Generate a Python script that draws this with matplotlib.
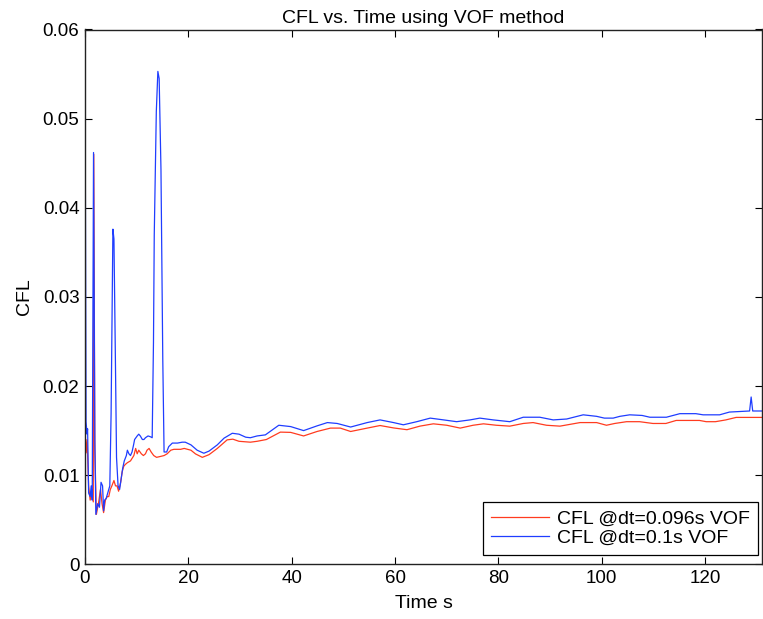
import matplotlib
matplotlib.use("Agg")
import matplotlib.pyplot as plt

# ---- data ----
t_red = [0, 0.2, 0.4, 0.7, 1.0, 1.35, 1.6, 1.7, 1.9, 2.2, 2.65, 3.0, 3.3, 3.6, 3.95, 4.3, 4.6,
         4.9, 5.2, 5.6, 5.9, 6.2, 6.5, 6.9, 7.2, 7.5, 7.8, 8.2, 8.8, 9.45, 9.8, 10.1, 10.4,
         10.9, 11.3, 11.7, 12.0, 12.4, 12.8, 13.3, 13.85, 14.6, 15.3, 15.9, 16.6, 17.2, 18.5,
         19.2, 20.5, 21.4, 22.7, 24.0, 25.6, 27.5, 28.6, 29.8, 32.0, 33.3, 35.1, 37.8, 39.8,
         42.3, 44.9, 47.5, 49.4, 51.4, 54.6, 57.1, 59.7, 62.3, 64.8, 67.4, 70.0, 72.6, 75.1,
         77.1, 79.6, 82.2, 84.8, 86.7, 89.3, 91.9, 95.8, 99.0, 100.9, 102.5, 104.8, 107.3,
         109.9, 112.4, 114.4, 118.9, 120.2, 122.0, 124.0, 126.0, 130.9]
cfl_red = [0.0150, 0.0125, 0.0140, 0.0088, 0.0072, 0.0084, 0.0070, 0.0460, 0.0130, 0.0056,
           0.0070, 0.0084, 0.0068, 0.0058, 0.0072, 0.0076, 0.0076, 0.0084, 0.0088, 0.0094,
           0.0088, 0.0088, 0.0082, 0.0092, 0.0104, 0.0110, 0.0112, 0.0114, 0.0116, 0.0122,
           0.0130, 0.0124, 0.0128, 0.0124, 0.0122, 0.0124, 0.0128, 0.0130, 0.0126, 0.0122,
           0.0120, 0.0121, 0.0122, 0.0124, 0.0128, 0.0129, 0.0129, 0.0130, 0.0128, 0.01238,
           0.0120, 0.0123, 0.0130, 0.01396, 0.01404, 0.0138, 0.0137, 0.0138, 0.0140, 0.01483,
           0.0148, 0.0144, 0.0149, 0.01528, 0.01528, 0.0149, 0.01528, 0.01557, 0.0153, 0.0151,
           0.0155, 0.01576, 0.0156, 0.01528, 0.0156, 0.01576, 0.0156, 0.0155, 0.0158, 0.0159,
           0.0156, 0.0155, 0.0159, 0.0159, 0.0156, 0.0158, 0.0160, 0.0160, 0.0158, 0.0158,
           0.01614, 0.01614, 0.0160, 0.0160, 0.0162, 0.01648, 0.01648]

t_blue = [0, 0, 0.2, 0.4, 0.5, 0.7, 1.0, 1.2, 1.4, 1.65, 1.9, 2.1, 2.45, 2.8, 3.1, 3.4, 3.6,
          3.8, 4.1, 4.4, 4.8, 5.05, 5.4, 5.6, 5.9, 6.1, 6.4, 6.7, 7.0, 7.3, 7.6, 8.0, 8.2,
          8.5, 8.8, 9.1, 9.4, 9.6, 10.1, 10.4, 10.7, 11.1, 11.4, 11.7, 12.2, 12.7, 13.0,
          13.25, 13.4, 13.8, 14.1, 14.35, 14.7, 15.05, 15.3, 15.8, 16.2, 16.9, 17.9, 18.8, 19.4,
          20.5, 21.7, 23.0, 24.0, 25.6, 26.9, 28.5, 29.8, 31.1, 32.0, 33.3, 34.9, 37.5, 39.8,
          42.3, 44.9, 46.9, 48.8, 51.4, 54.6, 57.1, 59.7, 61.6, 64.2, 66.8, 69.4, 71.9, 74.5,
          76.4, 79.0, 82.2, 84.8, 88.0, 90.6, 93.2, 96.4, 99.0, 100.5, 102.2, 103.5, 105.4,
          107.8, 109.3, 112.5, 115.1, 118.2, 119.6, 122.8, 124.7, 128.6, 128.9, 129.2, 130.9]
cfl_blue = [0.0, 0.0576, 0.0160, 0.0146, 0.0152, 0.0080, 0.0076, 0.0088, 0.0072, 0.0462,
            0.0140, 0.0056, 0.0068, 0.0064, 0.0092, 0.0088, 0.0060, 0.0072, 0.0074, 0.0080,
            0.0088, 0.0169, 0.0376, 0.0365, 0.0221, 0.0120, 0.0088, 0.0084, 0.0096, 0.0108,
            0.0116, 0.0122, 0.0128, 0.0124, 0.0122, 0.0126, 0.0134, 0.0140, 0.0144, 0.0146,
            0.0144, 0.0140, 0.0140, 0.0142, 0.0144, 0.0143, 0.0142,
            0.0249, 0.0369, 0.0508, 0.0553, 0.0545, 0.0443, 0.0230, 0.0126, 0.0126, 0.0132,
            0.0136, 0.0136, 0.0137, 0.0137, 0.0134, 0.0128, 0.01246, 0.0127, 0.0134, 0.01415,
            0.0147, 0.0146, 0.01426, 0.0142, 0.0144, 0.01452, 0.0156, 0.01545, 0.0150, 0.01553,
            0.0159, 0.0158, 0.0154, 0.0159, 0.0162, 0.0159, 0.01565, 0.0160, 0.0164, 0.0162,
            0.0160, 0.0162, 0.0164, 0.0162, 0.0160, 0.0165, 0.0165, 0.0162, 0.0163, 0.01677,
            0.0166, 0.0164, 0.0164, 0.0166, 0.01677, 0.0167, 0.0165, 0.0165, 0.0169, 0.0169,
            0.01677, 0.01677, 0.01708, 0.0172, 0.01877, 0.0172, 0.0172]

labels = ["CFL @dt=0.096s VOF", "CFL @dt=0.1s VOF"]
x_ticks = [0, 20, 40, 60, 80, 100, 120]
y_ticks = [0, 0.01, 0.02, 0.03, 0.04, 0.05, 0.06]
y_ticklabels = ['0', '0.01', '0.02', '0.03', '0.04', '0.05', '0.06']

plt.rcParams['font.family'] = ['Liberation Sans', 'DejaVu Sans']

fig = plt.figure(figsize=(7.63, 6.19), dpi=100)
ax = fig.add_axes([85/763, 1 - 564.3/619, (762 - 85)/763, (564.3 - 29.5)/619])

ax.plot(t_red, cfl_red, color='#ff3b1f', lw=0.9, label=labels[0])
ax.plot(t_blue, cfl_blue, color='#1f3dff', lw=0.9, label=labels[1])

ax.set_xlim(0, 131)
ax.set_ylim(0, 0.06)
ax.set_xticks(x_ticks)
ax.set_yticks(y_ticks)
ax.set_yticklabels(y_ticklabels)
ax.tick_params(direction='in', length=5, width=0.8, top=True, right=True,
               labelsize=13.5, colors='black', pad=4)
for s in ax.spines.values():
    s.set_linewidth(1.0)
    s.set_color('#222222')

ax.set_title("CFL vs. Time using VOF method", fontsize=14, pad=4.5)
ax.set_xlabel("Time s", fontsize=14, labelpad=6)
ax.set_ylabel("CFL", fontsize=14, labelpad=7)

leg = ax.legend(loc='lower right', bbox_to_anchor=(0.9945, 0.017), borderaxespad=0,
                fontsize=14, fancybox=False, framealpha=1, edgecolor='black',
                handlelength=3.0, handletextpad=0.4, borderpad=0.42, labelspacing=0.08)
leg.get_frame().set_linewidth(0.9)

fig.savefig("out.png", dpi=100)
